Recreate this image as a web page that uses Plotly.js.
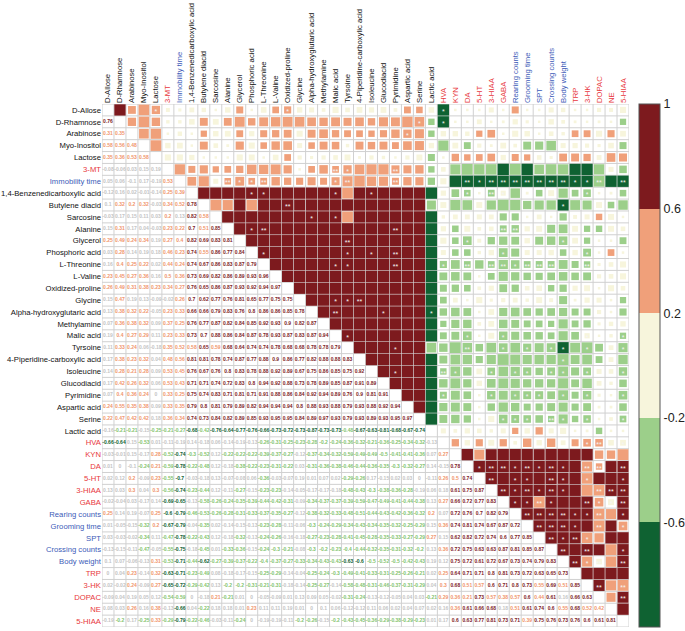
<!DOCTYPE html>
<html>
<head>
<meta charset="utf-8">
<script src="https://cdn.plot.ly/plotly-3.0.1.min.js"></script>
<style>html,body{margin:0;padding:0;background:#fff}</style>
</head>
<body>
<div id="chart" style="width:685px;height:631px"></div>
<script>
// variable names, in matrix order
var labels = ['D-Allose','D-Rhamnose','Arabinose','Myo-Inositol','Lactose','3-MT','Immobility time',
  '1,4-Benzenedicarboxylic acid','Butylene diacid','Sarcosine','Alanine','Glycerol','Phosphoric acid',
  'L-Threonine','L-Valine','Oxidized-proline','Glycine','Alpha-hydroxyglutaric acid','Methylamine',
  'Malic acid','Tyrsoine','4-Piperidine-carboxylic acid','Isoleucine','Glucodiacid','Pyrimidine',
  'Aspartic acid','Serine','Lactic acid','HVA','KYN','DA','5-HT','3-HIAA','GABA','Rearing counts',
  'Grooming time','SPT','Crossing counts','Body weight','TRP','3-HK','DOPAC','NE','5-HIAA'];
// m = metabolite, n = neurotransmitter, b = behaviour
var groups = ['m','m','m','m','m','n','b','m','m','m','m','m','m','m','m','m','m','m','m','m','m','m','m',
  'm','m','m','m','m','n','n','n','n','n','n','b','b','b','b','b','n','n','n','n','n'];

// lower triangle of the correlation matrix, row i holds columns 0..i-1
var lower = [
 [],
 [0.76],
 [0.31,0.35],
 [0.58,0.56,0.48],
 [0.35,0.36,0.53,0.58],
 [-0.08,-0.06,0.03,0.15,0.19],
 [0.05,0.06,-0.1,0.17,-0.19,0.53],
 [-0.12,0.16,0.02,-0.01,-0.14,0.25,0.39],
 [0.1,0.32,0.2,0.32,-0.03,0.34,0.52,0.78],
 [-0.03,0.17,0.15,0.11,0.03,0.2,0.13,0.82,0.58],
 [0.15,0.31,0.17,0.04,-0.03,0.23,0.22,0.7,0.51,0.85],
 [0.25,0.49,0.24,0.34,0.19,0.27,0.4,0.82,0.69,0.83,0.81],
 [0.03,0.28,0.14,0.19,0.18,0.46,0.23,0.74,0.55,0.86,0.77,0.84],
 [0.16,0.4,0.25,0.22,0.02,0.44,0.24,0.74,0.67,0.86,0.83,0.87,0.79],
 [0.23,0.45,0.27,0.36,0.16,0.5,0.36,0.73,0.69,0.82,0.86,0.89,0.93,0.96],
 [0.26,0.49,0.31,0.38,0.23,0.34,0.27,0.76,0.65,0.86,0.87,0.93,0.92,0.94,0.97],
 [0.15,0.47,0.19,0.13,-0.09,-0.02,0.26,0.7,0.62,0.77,0.76,0.81,0.65,0.77,0.75,0.75],
 [0.13,0.38,0.32,0.22,-0.05,0.23,0.33,0.66,0.66,0.79,0.83,0.76,0.8,0.86,0.86,0.85,0.78],
 [0.07,0.36,0.38,0.32,0.09,0.37,0.25,0.76,0.77,0.87,0.82,0.84,0.85,0.92,0.93,0.9,0.82,0.87],
 [0.19,0.4,0.27,0.29,0.11,0.23,0.33,0.73,0.7,0.88,0.86,0.84,0.87,0.78,0.93,0.87,0.83,0.87,0.94],
 [0.11,0.33,0.24,0.06,-0.18,0.35,0.52,0.58,0.65,0.59,0.68,0.64,0.74,0.74,0.78,0.68,0.68,0.78,0.78,0.79],
 [0.17,0.38,0.23,0.32,0.04,0.48,0.56,0.81,0.81,0.78,0.74,0.87,0.77,0.88,0.9,0.86,0.77,0.82,0.88,0.88,0.83],
 [0.14,0.28,0.21,0.28,0.09,0.53,0.45,0.76,0.67,0.76,0.8,0.83,0.78,0.88,0.92,0.89,0.67,0.75,0.86,0.85,0.75,0.92],
 [0.17,0.42,0.26,0.32,0.06,0.53,0.43,0.71,0.71,0.74,0.72,0.83,0.8,0.94,0.92,0.88,0.73,0.78,0.89,0.85,0.87,0.91,0.89],
 [0.07,0.4,0.36,0.24,0,0.33,0.25,0.75,0.74,0.83,0.71,0.81,0.71,0.91,0.88,0.86,0.84,0.92,0.94,0.89,0.76,0.9,0.81,0.91],
 [0.24,0.55,0.35,0.38,0.09,0.33,0.35,0.79,0.8,0.81,0.79,0.89,0.82,0.94,0.94,0.94,0.8,0.88,0.93,0.88,0.79,0.93,0.88,0.92,0.94],
 [0.22,0.47,0.42,0.42,0.18,0.36,0.34,0.74,0.73,0.84,0.82,0.89,0.85,0.93,0.95,0.95,0.84,0.89,0.97,0.93,0.79,0.93,0.89,0.93,0.95,0.97],
 [-0.16,-0.21,-0.21,-0.15,-0.25,-0.21,-0.27,-0.68,-0.42,-0.76,-0.64,-0.77,-0.76,-0.66,-0.73,-0.72,-0.73,-0.87,-0.73,-0.73,-0.48,-0.67,-0.63,-0.81,-0.68,-0.67,-0.74],
 [-0.66,-0.64,0.15,-0.53,0.01,-0.11,-0.19,0.14,-0.18,0.06,-0.14,-0.19,-0.13,-0.26,-0.31,-0.25,-0.23,-0.28,-0.2,-0.24,-0.36,-0.32,-0.21,-0.36,-0.25,-0.34,-0.32,-0.13],
 [-0.03,-0.01,0.15,-0.17,0.28,-0.52,-0.74,-0.3,-0.52,0.12,-0.22,-0.22,-0.22,-0.39,-0.37,-0.27,-0.12,-0.37,-0.34,-0.32,-0.59,-0.49,-0.49,-0.5,-0.41,-0.41,-0.36,0.07,0.27],
 [0.01,0,-0.1,-0.24,0.21,-0.59,-0.78,-0.22,-0.48,0.12,-0.18,-0.38,-0.22,-0.23,-0.31,-0.22,0.03,-0.31,-0.36,-0.38,-0.46,-0.44,-0.36,-0.35,-0.3,-0.32,-0.27,0.14,-0.15,0.78],
 [0.02,0.12,0.2,-0.09,0.23,-0.55,-0.7,-0.03,-0.18,0.13,-0.07,-0.08,0.06,-0.36,-0.03,-0.07,0.19,0.01,0.07,0.02,-0.29,-0.26,0.17,-0.15,0.02,0.03,0,-0.11,0.26,0.5,0.74],
 [0.13,0.03,0.3,0.04,0.3,-0.56,-0.74,-0.23,-0.44,0.12,-0.11,-0.27,-0.15,-0.23,-0.23,-0.14,-0.05,-0.17,-0.17,-0.18,-0.48,-0.43,-0.3,-0.38,-0.36,-0.28,-0.19,0.06,0.18,0.61,0.75,0.87],
 [-0.02,-0.04,0.03,-0.17,0.14,-0.69,-0.65,-0.13,-0.58,-0.26,-0.24,-0.35,-0.39,-0.44,-0.42,-0.31,-0.09,-0.34,-0.37,-0.37,-0.39,-0.59,-0.47,-0.49,-0.41,-0.44,-0.38,0.13,0.27,0.66,0.72,0.77,0.83],
 [0.25,0.14,0.19,-0.07,0.25,-0.6,-0.79,-0.46,-0.53,-0.26,-0.28,-0.31,-0.33,-0.37,-0.35,-0.27,-0.12,-0.38,-0.32,-0.33,-0.48,-0.51,-0.44,-0.43,-0.42,-0.36,-0.32,0.2,0.07,0.72,0.76,0.7,0.82,0.79],
 [0.01,-0.05,-0.15,-0.32,0.2,-0.67,-0.79,-0.04,-0.35,0.02,-0.14,-0.15,-0.13,-0.23,-0.28,-0.11,-0.06,-0.3,-0.24,-0.29,-0.34,-0.43,-0.34,-0.35,-0.32,-0.25,-0.29,0.15,0.36,0.74,0.81,0.74,0.67,0.87,0.72],
 [0.03,-0.03,-0.02,-0.34,0.11,-0.47,-0.78,-0.22,-0.43,0.12,-0.18,-0.32,-0.13,-0.24,-0.26,-0.16,-0.18,-0.27,-0.23,-0.28,-0.41,-0.45,-0.28,-0.35,-0.33,-0.27,-0.29,0.27,0.15,0.62,0.82,0.72,0.74,0.6,0.77,0.85],
 [-0.13,-0.15,-0.11,-0.47,-0.05,-0.55,-0.75,-0.18,-0.45,0.01,-0.33,-0.36,-0.15,-0.24,-0.3,-0.21,-0.08,-0.3,-0.2,-0.23,-0.4,-0.44,-0.32,-0.35,-0.31,-0.32,-0.2,0.13,0.36,0.72,0.75,0.63,0.63,0.87,0.81,0.85,0.87],
 [0.1,0.07,-0.06,-0.13,0.31,-0.53,-0.71,-0.44,-0.62,-0.27,-0.39,-0.37,-0.22,-0.4,-0.37,-0.27,-0.33,-0.34,-0.43,-0.43,-0.63,-0.6,-0.5,-0.52,-0.5,-0.42,-0.43,0.19,0.12,0.75,0.72,0.61,0.72,0.67,0.73,0.74,0.79,0.83],
 [0,0.04,0.23,-0.14,0.32,-0.63,-0.71,-0.23,-0.49,0.08,-0.18,-0.17,-0.15,-0.25,-0.29,-0.14,-0.04,-0.25,-0.24,-0.3,-0.49,-0.41,-0.33,-0.31,-0.25,-0.26,-0.21,0.02,0.25,0.64,0.71,0.71,0.8,0.81,0.73,0.72,0.63,0.65,0.73],
 [0.02,-0.02,0.24,-0.09,0.27,-0.65,-0.72,-0.29,-0.42,0.13,-0.2,-0.2,-0.31,-0.21,-0.31,-0.18,-0.14,-0.25,-0.27,-0.14,-0.58,-0.48,-0.31,-0.46,-0.37,-0.31,-0.29,0.04,0.3,0.68,0.51,0.57,0.6,0.71,0.8,0.73,0.55,0.69,0.51,0.85],
 [-0.09,0.04,0.19,0.05,0.12,-0.54,-0.59,0,-0.18,0.21,-0.21,0.01,0,-0.05,-0.09,0.01,0.13,0.09,0.05,-0.02,-0.31,-0.24,-0.13,-0.12,-0.05,0.04,0.03,-0.21,0.29,0.36,0.21,0.73,0.57,0.38,0.57,0.6,0.44,0.61,0.16,0.66,0.63],
 [0.08,0.03,0.26,0.16,0.38,-0.13,-0.66,0.04,-0.22,0.18,0.18,0.01,0.23,0.11,0.11,0.19,0.01,0,0.1,0.06,-0.12,-0.12,0.11,0.06,0.02,0.04,0.07,0.02,0.16,0.36,0.61,0.66,0.68,0.18,0.51,0.61,0.74,0.6,0.55,0.68,0.52,0.42],
 [-0.19,-0.2,0.17,-0.25,0.33,-0.29,-0.79,-0.22,-0.46,-0.03,-0.11,-0.24,0,-0.19,-0.19,-0.11,-0.2,-0.26,-0.15,-0.2,-0.43,-0.45,-0.36,-0.29,-0.38,-0.29,-0.23,0.01,0.17,0.6,0.63,0.77,0.81,0.73,0.71,0.39,0.75,0.76,0.73,0.76,0.6,0.61,0.81]
];

// significance marks shown in the upper triangle: [row, column, mark]
var stars = [
 [0,4,'*'],[0,15,'*'],[0,28,'*'],[1,26,'*'],[1,28,'*'],[2,25,'*'],
 [5,19,'**'],[5,20,'*'],[5,24,'**'],
 [6,10,'**'],[6,11,'*'],[6,12,'*'],[6,13,'**'],[6,19,'*'],[6,20,'**'],[6,24,'**'],
 [6,30,'**'],[6,31,'*'],[6,32,'**'],[6,33,'**'],[6,34,'**'],[6,35,'**'],[6,36,'**'],[6,37,'**'],
 [6,38,'**'],[6,39,'*'],[6,40,'*'],[6,41,'**'],[6,43,'**'],
 [7,12,'*'],[7,13,'*'],[7,19,'*'],[7,22,'*'],[7,30,'*'],[7,32,'**'],[7,33,'*'],[7,40,'*'],
 [8,15,'**'],[8,38,'*'],
 [9,17,'*'],[9,19,'*'],
 [10,12,'*'],[10,13,'**'],[10,24,'**'],[10,33,'**'],[10,34,'**'],
 [11,20,'**'],[11,30,'*'],[11,38,'*'],
 [12,13,'*'],[12,20,'*'],[12,22,'*'],[12,24,'**'],[12,33,'*'],[12,40,'*'],
 [13,19,'*'],[13,20,'*'],[13,24,'**'],[13,28,'*'],[13,30,'**'],[13,32,'**'],[13,33,'**'],[13,34,'*'],
 [13,35,'**'],[13,36,'**'],[13,37,'**'],[13,40,'**'],
 [16,19,'*'],[16,20,'*'],[16,21,'**'],
 [17,19,'**'],[17,23,'*'],[17,27,'*'],
 [19,20,'*'],[19,30,'*'],[19,33,'*'],[19,40,'*'],[19,43,'*'],
 [20,24,'*'],[20,30,'**'],[20,33,'*'],[20,35,'*'],[20,37,'*'],[20,38,'*'],[20,40,'*'],[20,43,'*'],
 [21,38,'*'],
 [22,24,'*'],[22,28,'**'],[22,29,'*'],[22,32,'*'],[22,34,'*'],[22,35,'*'],[22,37,'*'],[22,38,'*'],[22,40,'*'],[22,43,'*'],
 [24,28,'*'],[24,32,'*'],[24,34,'*'],[24,35,'*'],[24,36,'*'],[24,38,'*'],[24,40,'*'],[24,43,'*'],
 [26,33,'*'],[26,34,'*'],[26,35,'*'],[26,37,'**'],[26,38,'*'],[26,40,'*'],[26,43,'*'],
 [28,40,'*'],[28,41,'**'],[28,43,'*'],
 [30,31,'*'],[30,32,'**'],[30,33,'**'],[30,34,'*'],[30,35,'**'],[30,36,'*'],[30,37,'**'],[30,38,'*'],
 [30,40,'**'],[30,41,'**'],[30,43,'**'],
 [31,32,'**'],[31,34,'*'],[31,35,'*'],[31,37,'**'],[31,38,'*'],[31,40,'*'],[31,43,'*'],
 [32,33,'**'],[32,34,'*'],[32,35,'**'],[32,36,'*'],[32,37,'**'],[32,38,'*'],[32,41,'**'],[32,42,'**'],[32,43,'**'],
 [33,34,'*'],[33,35,'*'],[33,36,'**'],[33,37,'*'],[33,40,'**'],[33,41,'*'],[33,42,'*'],[33,43,'**'],
 [34,35,'**'],[34,36,'**'],[34,37,'**'],[34,38,'**'],[34,39,'*'],[34,40,'*'],[34,41,'**'],[34,43,'*'],
 [35,36,'**'],[35,37,'**'],[35,38,'**'],[35,39,'*'],[35,41,'**'],[35,43,'*'],
 [36,37,'**'],[36,38,'*'],[36,39,'**'],[36,40,'*'],
 [37,38,'**'],[37,40,'**'],[37,43,'*'],
 [38,39,'**'],[38,40,'*'],[38,41,'**'],[38,43,'**'],
 [40,41,'**'],[40,43,'**'],
 [41,43,'**']
];

var n = labels.length;
function corr(i, j) {
    if (i == j) return 1;
    return i > j ? lower[i][j] : lower[j][i];
}

var cDarkRed = '#7d1a1e', cSalmon = '#f0a07a', cCream = '#f7f5dc', cLightGreen = '#9ccf8a', cDarkGreen = '#0f6232';
var groupColor = {m: '#111111', n: '#e8383d', b: '#3d5bb8'};

function textColor(v) {
    if (v >= 0.6) return cDarkRed;
    if (v >= 0.2) return '#f0956c';
    if (v > -0.2) return '#c4c4c4';
    if (v > -0.6) return '#84c46f';
    return cDarkGreen;
}

// squares above the diagonal
var sqx = [], sqy = [], sqc = [], sqs = [];
// numbers below the diagonal
var tx = [], ty = [], tt = [], tc = [];
for (var i = 0; i < n; i++) {
    for (var j = 0; j < n; j++) {
        if (j > i) {
            var v = corr(i, j);
            sqx.push(j); sqy.push(i); sqc.push(v);
            sqs.push(Math.min(11.3, Math.max(2.5, 14 * Math.sqrt(Math.abs(v)))));
        } else if (j < i) {
            var w = corr(i, j);
            tx.push(j); ty.push(i); tt.push(String(w)); tc.push(textColor(w));
        }
    }
}

var ticktext = labels.map(function (l, k) {
    return '<span style="color:' + groupColor[groups[k]] + '">' + l + '</span>';
});
var idx = labels.map(function (l, k) { return k; });

var shapes = [];
for (var k = 0; k <= n; k++) {
    shapes.push({type: 'line', layer: 'below', x0: k - 0.5, x1: k - 0.5, y0: -0.5, y1: n - 0.5,
        line: {color: '#d0d0d0', width: 1}});
    shapes.push({type: 'line', layer: 'below', y0: k - 0.5, y1: k - 0.5, x0: -0.5, x1: n - 0.5,
        line: {color: '#d0d0d0', width: 1}});
}

var squares = {
    x: sqx, y: sqy, type: 'scatter', mode: 'markers', hoverinfo: 'skip',
    marker: {
        symbol: 'square', size: sqs, color: sqc, cmin: -1, cmax: 1, opacity: 1,
        colorscale: [[0, cDarkGreen], [0.2, cDarkGreen], [0.2, cLightGreen], [0.4, cLightGreen],
            [0.4, cCream], [0.6, cCream], [0.6, cSalmon], [0.8, cSalmon], [0.8, cDarkRed], [1, cDarkRed]],
        line: {width: 0},
        showscale: true,
        colorbar: {
            x: 1.019, xanchor: 'left', xpad: 0, thickness: 21, len: 1, lenmode: 'fraction',
            y: 0.5, yanchor: 'middle', ypad: 0, outlinewidth: 1, outlinecolor: '#555',
            tickvals: [-1, -0.6, -0.2, 0.2, 0.6, 1], ticktext: ['-1', '-0.6', '-0.2', '0.2', '0.6', '1'],
            ticks: '', ticklen: 2, tickfont: {family: 'Liberation Sans, Arial', size: 12.5, color: '#222'}
        }
    }
};

var numbers = {
    x: tx, y: ty, text: tt, type: 'scatter', mode: 'text', hoverinfo: 'skip',
    textfont: {family: 'Liberation Sans, Arial', size: 5, weight: 'bold', color: tc}
};

var starTrace = {
    x: stars.map(function (s) { return s[1]; }),
    y: stars.map(function (s) { return s[0] + 0.2; }),
    text: stars.map(function (s) { return s[2]; }),
    type: 'scatter', mode: 'text', hoverinfo: 'skip',
    textfont: {family: 'Liberation Sans, Arial', size: 7, color: '#f4f4f4'}
};

var layout = {
    width: 685, height: 631,
    margin: {l: 102, r: 56, t: 104, b: 4, autoexpand: false},
    paper_bgcolor: '#fff', plot_bgcolor: '#fff',
    showlegend: false,
    xaxis: {
        range: [-0.5, n - 0.5], side: 'top', tickmode: 'array', tickvals: idx, ticktext: ticktext,
        tickangle: -90, tickfont: {family: 'Liberation Sans, Arial', size: 7.7}, ticks: '',
        showgrid: false, zeroline: false, showline: false, automargin: false, fixedrange: true
    },
    yaxis: {
        range: [n - 0.5, -0.5], tickmode: 'array', tickvals: idx, ticktext: ticktext,
        tickfont: {family: 'Liberation Sans, Arial', size: 7.7}, ticks: '',
        showgrid: false, zeroline: false, showline: false, automargin: false, fixedrange: true
    },
    shapes: shapes
};

Plotly.newPlot('chart', [squares, numbers, starTrace], layout, {staticPlot: true});
</script>
</body>
</html>
